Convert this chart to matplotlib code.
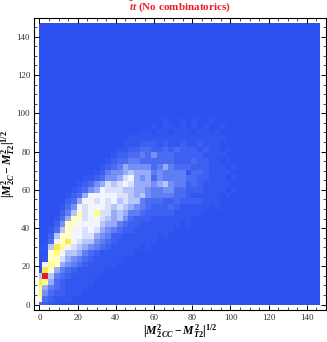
import numpy as np
import matplotlib
matplotlib.use("Agg")
import matplotlib.pyplot as plt
from matplotlib.colors import LinearSegmentedColormap

plt.rcParams['font.family'] = ['Liberation Serif', 'DejaVu Serif']
plt.rcParams['mathtext.fontset'] = 'custom'
plt.rcParams['mathtext.rm'] = 'Liberation Serif:bold'
plt.rcParams['mathtext.it'] = 'Liberation Serif:italic:bold'
plt.rcParams['mathtext.bf'] = 'Liberation Serif:bold'

# counts, one hex digit per cell, bottom row first
# 0-9 = blue to white, a-c = pale to strong yellow, d = red
rows = [
    "32110",
    "a3211100",
    "b532211100",
    "b6432111100",
    "cb6321111100",
    "7d74321111100",
    "0ca64321111100",
    "09ba654321111100",
    "01aa8654321111100",
    "00ab977643211111100",
    "017cb98765432111110100",
    "0039ac98775432111111100",
    "0027aa998865422111111010",
    "00137a99898654322111111100",
    "00025aa999976643221111111010",
    "000136aa89987675322211111110",
    "0000247a89b8867644322222111110",
    "00001359899987876543222321111101",
    "000002369989897877433322322221110",
    "0000012369999988767544443321111101",
    "00000012356988877665445533222111101",
    "00000001235687898666567544232111110",
    "00000000112355689656354444332211101",
    "00000000001245567666454444133211110",
    "00000000000123465555346433322211101",
    "00000000000012334433333322232211010",
    "00000000000001223343533322222111100",
    "00000000000000112233223232221211010",
    "00000000000000011122212112112111000",
    "00000000000000001111111111111111100",
    "00000000000000000011011011101101000",
    "00000000000000000000101101010100100",
    "00000000000000000000001001010010000",
]
n_cells = 50
cell = 3.0

grid = np.zeros((n_cells, n_cells))
for r, row in enumerate(rows):
    for c, ch in enumerate(row):
        grid[r, c] = int(ch, 16)

cmap = LinearSegmentedColormap.from_list("dens", [
    (0.0, "#2d50f0"),
    (1 / 13, "#3256f0"),
    (2 / 13, "#3c60f1"),
    (3 / 13, "#4b6cf2"),
    (5 / 13, "#7590f5"),
    (7 / 13, "#b8c6fa"),
    (8 / 13, "#d8e0fc"),
    (9 / 13, "#f2f5ff"),
    (10 / 13, "#ffffc4"),
    (11 / 13, "#ffff80"),
    (12 / 13, "#fff04c"),
    (1.0, "#dc1e32"),
])

# first and last cells are half width, the centres sit on the edge of the plot
edges = np.clip((np.arange(n_cells + 1) - 0.5) * cell, 0, 147)

fig = plt.figure(figsize=(3.27, 3.42), dpi=100)
ax = fig.add_axes([34.3 / 327, 32 / 342, 291.7 / 327, 292.3 / 342])
ax.pcolormesh(edges, edges, grid, cmap=cmap, vmin=0, vmax=13, rasterized=True)
ax.set_xlim(-2.7, 150)
ax.set_ylim(-2.8, 149.9)

ax.set_xticks(np.arange(0, 141, 20))
ax.set_yticks(np.arange(0, 141, 20))
ax.set_xticks(np.arange(0, 150, 5), minor=True)
ax.set_yticks(np.arange(0, 150, 5), minor=True)
ax.tick_params(which='major', direction='in', length=3.5, width=0.7, top=True, right=True,
               labelsize=6.5, labelcolor='#333333', pad=3)
ax.tick_params(which='minor', direction='in', length=2, width=0.5, top=True, right=True)
for s in ax.spines.values():
    s.set_linewidth(0.8)

fig.text(180 / 327, 1 - 7 / 342, r"$\bar{t}t$ (No combinatorics)", color='#ee1c25',
         fontsize=8, fontweight='bold', ha='center', va='center')
fig.text(180 / 327, 1 - 331 / 342, r"$|M^2_{2\,CC}-M^2_{T2}|^{1/2}$", fontsize=8.5,
         ha='center', va='center')
fig.text(8 / 327, 1 - 164 / 342, r"$|M^2_{2C}-M^2_{T2}|^{1/2}$", fontsize=8.5,
         rotation=90, ha='center', va='center')

fig.savefig("out.png", dpi=100)
